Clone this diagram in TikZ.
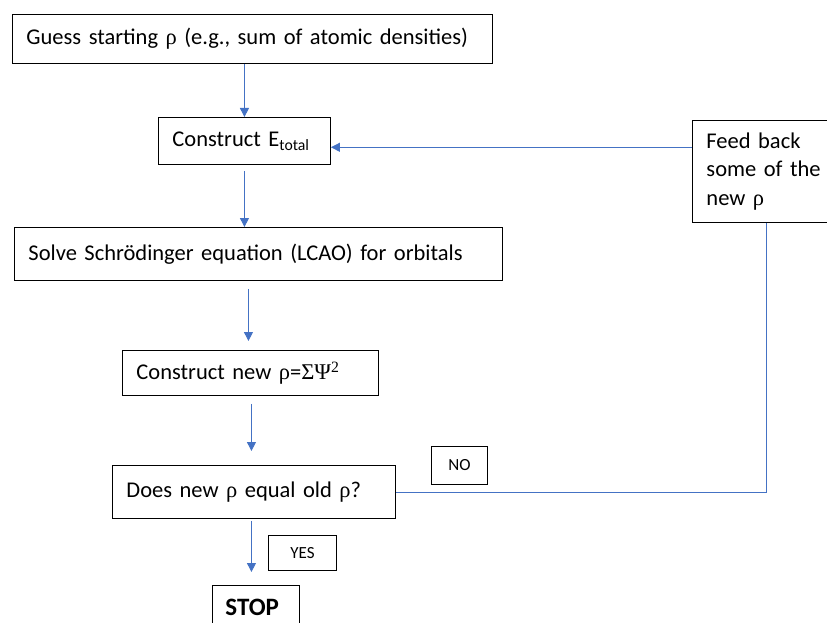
\documentclass[tikz,border=0pt]{standalone}
\usepackage{fontspec}
\setmainfont{Carlito}
\newfontfamily\grk{Liberation Serif}
\usetikzlibrary{arrows.meta,calc}
\definecolor{flowblue}{HTML}{4472C4}
\begin{document}
\begin{tikzpicture}[x=1pt,y=-1pt,
  box/.style={draw=black, line width=0.9pt, rectangle, anchor=north west,
    inner xsep=14pt, inner ysep=0pt, align=left, font=\fontsize{22.5}{28.5}\selectfont},
  tag/.style={draw=black, line width=0.9pt, rectangle, anchor=north west,
    inner sep=0pt, align=center, font=\fontsize{17}{19}\selectfont},
  flow/.style={draw=flowblue, line width=0.9pt},
  arr/.style={flow, -{Triangle[length=9pt,width=9pt]}}]
\useasboundingbox (0,0) rectangle (827,623);

% process boxes
\node[box, minimum width=480, minimum height=49, text width=452] (guess) at (12,14)
  {Guess starting {\grk ρ} (e.g., sum of atomic densities)};
\node[box, minimum width=172, minimum height=47, text width=144] (etot) at (158,117)
  {Construct E\textsubscript{total}};
\node[box, minimum width=488, minimum height=53, text width=460] (solve) at (14,227)
  {Solve Schrödinger equation (LCAO) for orbitals};
\node[box, minimum width=256, minimum height=45, text width=228] (newrho) at (122,350)
  {Construct new {\grk ρ}={\grk ΣΨ}\textsuperscript{\grk 2}};
\node[box, minimum width=283, minimum height=53, text width=255] (does) at (112,465)
  {Does new {\grk ρ} equal old {\grk ρ}?};
\node[box, minimum width=148, minimum height=102, text width=120] (feed) at (692,120)
  {Feed back\\some of the\\new {\grk ρ}};

% decision labels and end
\node[tag, minimum width=56, minimum height=38] (no) at (431,446) {NO};
\node[tag, minimum width=68, minimum height=35] (yes) at (268,535) {YES};
\node[box, minimum width=87, minimum height=44, text width=61, inner xsep=13pt,
  font=\fontsize{25}{28}\selectfont\bfseries] (stop) at (212,585) {STOP};

% connectors
\draw[arr] (guess.south -| etot.north) -- (etot.north);
\draw[arr, shorten <=6pt] (etot.south) -- (solve.north -| etot.south);
\draw[arr, shorten <=8pt, shorten >=9pt] ($(solve.south)+(-10,0)$) coordinate (s1) -- (s1 |- newrho.north);
\draw[arr, shorten <=8pt, shorten >=14pt] ($(newrho.south)+(1,0)$) coordinate (s2) -- (s2 |- does.north);
\draw[arr, shorten <=2pt, shorten >=13pt] ($(does.south)+(-2.5,0)$) coordinate (s3) -- (s3 |- stop.north);
\draw[flow] (feed.south) |- (does.east);
\draw[arr] ($(feed.north west)!0.265!(feed.south west)$) coordinate (fb) -- (fb -| etot.east);
\end{tikzpicture}
\end{document}
